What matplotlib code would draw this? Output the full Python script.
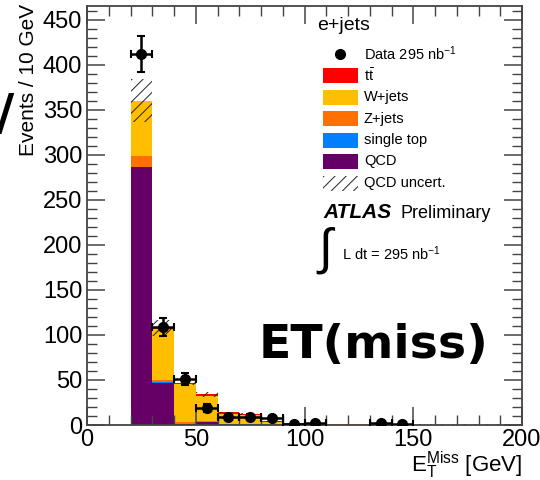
import numpy as np
import matplotlib.pyplot as plt
from matplotlib.patches import Rectangle
from matplotlib.ticker import MultipleLocator

plt.rcParams['font.family'] = ['Liberation Sans', 'DejaVu Sans']
plt.rcParams['mathtext.fontset'] = 'custom'
plt.rcParams['mathtext.rm'] = 'Liberation Sans'
plt.rcParams['mathtext.it'] = 'Liberation Sans:italic'
plt.rcParams['hatch.linewidth'] = 0.7

# 10 GeV bins, 0 - 200 GeV
edges = np.arange(0, 210, 10)

qcd     = [0, 0, 286, 47, 1, 3, 0.5, 0.5, 0.3, 0.3, 0.2, 0.2, 0.2, 0.2, 0.2, 0.5, 0.5, 0.5, 0.5, 0.5]
stop    = [0, 0, 0.3, 0.5, 0.3, 0.2, 0.2, 0.1, 0.1, 0, 0, 0, 0, 0, 0, 0, 0, 0, 0, 0]
zjets   = [0, 0, 12, 2, 2, 1, 0.5, 0.5, 0.2, 0.1, 0.1, 0.1, 0.1, 0.1, 0.1, 0, 0, 0, 0, 0]
wjets   = [0, 0, 61, 56.5, 42.5, 28.5, 11.5, 10.5, 3, 1.2, 1, 0.8, 0.8, 0.5, 0.3, 0, 0, 0, 0, 0]
ttbar   = [0, 0, 0.5, 2, 1.2, 1.2, 1.2, 0.8, 0.3, 0.2, 0.1, 0.1, 0.1, 0.1, 0.1, 0, 0, 0, 0, 0]
qcd_unc = [0, 0, 24, 9, 3, 3, 1, 1, 0.5, 0.3, 0.2, 0.2, 0.2, 0.2, 0.2, 0.2, 0.2, 0.2, 0.2, 0.2]

# data points (bin centres) with errors
data_x   = [25, 35, 45, 55, 65, 75, 85, 95, 105, 135, 145]
data_y   = [412, 109, 51, 19, 9, 9, 7.5, 1, 2.5, 2, 1]
data_err = [20, 10, 7, 4.5, 3, 3, 2.7, 1, 1.6, 1.4, 1]

c_qcd = '#660066'
c_stop = '#0080ff'
c_z = '#ff7000'
c_w = '#ffbf00'
c_tt = '#ff0000'

fig = plt.figure(figsize=(5.4, 4.8), dpi=100)
ax = fig.add_axes([87 / 540, 55 / 480, 435 / 540, 419 / 480])

bottom = np.zeros(len(edges) - 1)
for vals, col in [(qcd, c_qcd), (stop, c_stop), (zjets, c_z), (wjets, c_w), (ttbar, c_tt)]:
    vals = np.array(vals, dtype=float)
    ax.bar(edges[:-1], vals, width=10, bottom=bottom, align='edge', color=col, linewidth=0)
    bottom += vals

# QCD uncertainty band around the total
unc = np.array(qcd_unc)
ax.bar(edges[:-1], 2 * unc, width=10, bottom=bottom - unc, align='edge', fill=False,
       hatch='///', edgecolor='#222222', linewidth=0)

ax.errorbar(data_x, data_y, yerr=data_err, xerr=5, fmt='o', color='black', ms=7,
            elinewidth=1.8, capsize=3, capthick=1.5, zorder=5)

ax.set_xlim(0, 200)
ax.set_ylim(0, 465)
ax.xaxis.set_major_locator(MultipleLocator(50))
ax.xaxis.set_minor_locator(MultipleLocator(10))
ax.yaxis.set_major_locator(MultipleLocator(50))
ax.yaxis.set_minor_locator(MultipleLocator(10))
ax.tick_params(which='both', direction='in', top=True, right=True, color='#444444', labelsize=17)
ax.tick_params(which='major', length=13, width=1.1)
ax.tick_params(which='minor', length=7, width=1.0)
ax.tick_params(axis='x', which='major', pad=3)
for s in ax.spines.values():
    s.set_color('#444444')
    s.set_linewidth(1.3)

fig.text(29 / 540, 1 - 4 / 480, 'Events / 10 GeV', rotation=90, ha='center', va='top', fontsize=15)
fig.text(522 / 540, 1 - 481 / 480, r'E$_{\rm T}^{\rm Miss}$ [GeV]', ha='right', va='bottom', fontsize=16)

# legend
fig.text(317 / 540, 1 - 25 / 480, 'e+jets', ha='left', va='center', fontsize=14)
rows = [('Data 295 nb$^{-1}$', None), (r't$\bar{\rm t}$', c_tt), ('W+jets', c_w), ('Z+jets', c_z),
        ('single top', c_stop), ('QCD', c_qcd), ('QCD uncert.', 'hatch')]
for i, (lab, col) in enumerate(rows):
    yc = 54 + i * 21.5
    fy = 1 - yc / 480
    if col is None:
        fig.lines.append(plt.Line2D([340 / 540], [fy], marker='o', color='black', ms=7,
                                    transform=fig.transFigure))
    elif col == 'hatch':
        fig.patches.append(Rectangle((323 / 540, fy - 7.5 / 480), 35 / 540, 15 / 480, fill=False,
                                     hatch='///', edgecolor='#222222', linewidth=0,
                                     transform=fig.transFigure))
    else:
        fig.patches.append(Rectangle((323 / 540, fy - 7.5 / 480), 35 / 540, 15 / 480, facecolor=col,
                                     edgecolor='none', transform=fig.transFigure))
    fig.text(364 / 540, fy, lab, ha='left', va='center', fontsize=10.5)

fig.text(323 / 540, 1 - 213 / 480, 'ATLAS', ha='left', va='center', fontsize=15,
         fontweight='bold', fontstyle='italic')
fig.text(401 / 540, 1 - 213 / 480, 'Preliminary', ha='left', va='center', fontsize=13)
fig.text(316 / 540, 1 - 251 / 480, r'$\int$', ha='left', va='center', fontsize=36)
fig.text(342 / 540, 1 - 254 / 480, 'L dt = 295 nb$^{-1}$', ha='left', va='center', fontsize=10.5)

fig.text(259 / 540, 1 - 346 / 480, 'ET(miss)', ha='left', va='center', fontsize=34,
         fontweight='bold', family='DejaVu Sans')
fig.text(-4 / 540, 1 - 115 / 480, '/', ha='left', va='center', fontsize=36,
         fontweight='bold', family='DejaVu Sans')

fig.savefig('out.png', dpi=100)
